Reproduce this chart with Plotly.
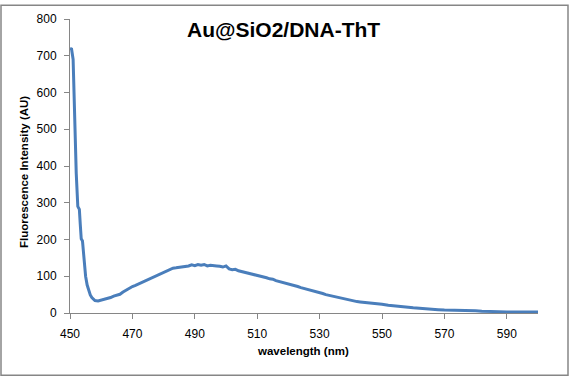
import plotly.graph_objects as go

wavelength = [450.0, 450.5, 451.0, 451.5, 452.0, 452.5, 453.0, 453.3, 453.6, 454.0, 454.5, 455.0, 455.5,
              456.0, 456.5, 457.0, 457.5, 458.0, 459.0, 460.0, 461.0, 462.0, 463.0, 464.0, 465.0, 466.0,
              467.0, 468.0, 469.0, 470.0, 471.0, 472.0, 473.0, 474.0, 475.0, 476.0, 477.0, 478.0, 479.0,
              480.0, 481.0, 482.0, 483.0, 484.0, 485.0, 486.0, 487.0, 488.0, 489.0, 490.0, 491.0, 492.0,
              493.0, 494.0, 495.0, 496.0, 497.0, 498.0, 499.0, 500.0, 501.0, 502.0, 503.0, 504.0, 505.0,
              506.0, 507.0, 508.0, 509.0, 510.0, 511.0, 512.0, 513.0, 514.0, 515.0, 516.0, 517.0, 518.0,
              519.0, 520.0, 521.0, 522.0, 523.0, 524.0, 525.0, 526.0, 527.0, 528.0, 529.0, 530.0, 531.0,
              532.0, 533.0, 534.0, 535.0, 536.0, 537.0, 538.0, 539.0, 540.0, 541.0, 542.0, 543.0, 544.0,
              545.0, 546.0, 547.0, 548.0, 550.0, 552.0, 554.0, 556.0, 558.0, 560.0, 562.0, 564.0, 566.0,
              568.0, 570.0, 572.0, 574.0, 576.0, 578.0, 580.0, 582.0, 584.0, 586.0, 588.0, 590.0, 592.0,
              594.0, 596.0, 598.0, 600.0]
intensity = [720, 718, 690, 520, 380, 290, 282, 240, 202, 196, 135, 100, 76,
             60, 49, 42, 37, 34, 33, 35, 37, 40, 42, 46, 49, 51,
             57, 62, 68, 72, 75, 79, 84, 88, 91, 96, 100, 104, 107,
             112, 114, 118, 122, 123, 124, 127, 126, 128, 131, 129, 132, 130,
             132, 128, 130, 128, 128, 127, 125, 128, 120, 118, 119, 115, 113,
             112, 110, 107, 105, 104, 100, 99, 96, 93, 92, 88, 86, 83,
             80, 80, 77, 74, 72, 69, 67, 64, 62, 59, 57, 55, 53,
             50, 48, 45, 44, 42, 40, 38, 37, 35, 33, 31, 30, 29,
             29, 28, 28, 26, 24, 21, 19, 17, 15, 14, 13, 11, 10,
             9, 8, 8, 7, 6, 6, 6, 5, 4, 4, 4, 3, 3,
             3, 3, 3, 3]

x_ticks = [450, 470, 490, 510, 530, 550, 570, 590]
y_ticks = [0, 100, 200, 300, 400, 500, 600, 700, 800]

title_text = "Au@SiO2/DNA-ThT"
x_title = "wavelength (nm)"
y_title = "Fluorescence Intensity (AU)"

W, H = 569, 377
L, R, T, B = 70, 31, 15, 64
pw, ph = W - L - R, H - T - B

fig = go.Figure()
fig.add_trace(go.Scatter(x=wavelength, y=intensity, mode="lines",
                         line=dict(color="#4A7EBB", width=3), showlegend=False))

axis_color = "#868686"
font_family = "Liberation Sans"

fig.update_layout(
    width=W, height=H,
    margin=dict(l=L, r=R, t=T, b=B),
    paper_bgcolor="white", plot_bgcolor="white",
    font=dict(family=font_family, color="#000000", size=12),
    xaxis=dict(range=[450, 600], tickvals=x_ticks, ticktext=[str(v) for v in x_ticks],
               showgrid=False, zeroline=False, showline=True, linecolor=axis_color, linewidth=1,
               ticks="outside", ticklen=5, tickcolor=axis_color, tickfont=dict(size=12),
               ticklabelstandoff=5),
    yaxis=dict(range=[0, 800], tickvals=y_ticks, ticktext=[str(v) for v in y_ticks],
               showgrid=False, zeroline=False, showline=True, linecolor=axis_color, linewidth=1,
               ticks="outside", ticklen=5, tickcolor=axis_color, tickfont=dict(size=12),
               ticklabelstandoff=5),
)

fig.add_annotation(text="<b>" + title_text + "</b>", xref="paper", yref="paper",
                   x=(283 - L) / pw, y=(H - B - 26) / ph, showarrow=False,
                   xanchor="center", yanchor="middle", font=dict(size=21, family=font_family))
fig.add_annotation(text="<b>" + x_title + "</b>", xref="paper", yref="paper",
                   x=(302.5 - L) / pw, y=(H - B - 352) / ph, showarrow=False,
                   xanchor="center", yanchor="middle", font=dict(size=11.5, family=font_family))
fig.add_annotation(text="<b>" + y_title + "</b>", xref="paper", yref="paper",
                   x=(24 - L) / pw, y=(H - B - 170) / ph, showarrow=False, textangle=-90,
                   xanchor="center", yanchor="middle", font=dict(size=11.5, family=font_family))

fig.add_shape(type="rect", xref="paper", yref="paper",
              x0=(1 - L) / pw, x1=(568 - L) / pw,
              y0=(H - B - 376) / ph, y1=(H - B - 1) / ph,
              line=dict(color="#868686", width=1.5), fillcolor="rgba(0,0,0,0)", layer="above")

fig.write_html("out.html", config={"displayModeBar": False},
               post_script="document.body.style.margin='0';document.body.style.padding='0';"
                           "document.body.style.overflow='hidden';window.scrollTo(0,0);")
